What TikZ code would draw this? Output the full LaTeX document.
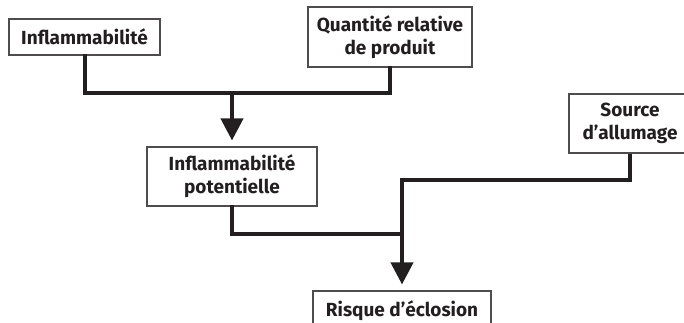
\documentclass[tikz,border=0pt]{standalone}
\usepackage{fontspec}
\setmainfont{Fira Sans}
\usetikzlibrary{arrows.meta,calc}
\definecolor{inkblack}{rgb}{0.137255,0.121569,0.125490}
\tikzset{
  box/.style={draw=inkblack!80,line width=1.1pt,fill=white,align=center,
    inner sep=0pt,font=\bfseries\fontsize{19}{23}\selectfont,text=inkblack},
  link/.style={draw=inkblack,line width=4pt,line cap=rect},
  flow/.style={draw=inkblack,line width=4pt,
    -{Triangle[width=22pt,length=22pt]},shorten >=6pt}
}
\begin{document}
\begin{tikzpicture}[x=1pt,y=1pt]
  \useasboundingbox (0,0) rectangle (684,-322);
  \clip (0,0) rectangle (684,-322);

  % Boxes
  \node[box,minimum width=151pt,minimum height=36pt] (infl) at (84.5,-37) {Inflammabilit\'e};
  \node[box,minimum width=164pt,minimum height=60pt] (quant) at (390,-37) {Quantit\'e relative\\de produit};
  \node[box,minimum width=170pt,minimum height=59pt] (pot) at (232,-176.5) {Inflammabilit\'e\\potentielle};
  \node[box,minimum width=122pt,minimum height=59pt] (src) at (630,-123.5) {Source\\d'allumage};
  \node[box,minimum width=178pt,minimum height=40pt] (risk) at (402,-311) {Risque d'\'eclosion};

  % Junctions
  \coordinate (j1) at (pot.north |- 0,-93);
  \coordinate (j2) at (risk.north |- 0,-234);
  \coordinate (k) at (risk.north |- 0,-180);

  % Drawing lines infl, quant -> pot
  \draw[link] (infl.south) |- (j1) -| (quant.south);
  \draw[flow] (j1) -- (pot.north);

  % Drawing lines pot, src -> risk
  \draw[link] (pot.south) |- (j2);
  \draw[flow] (src.south) |- (k) -- (risk.north);
\end{tikzpicture}
\end{document}
